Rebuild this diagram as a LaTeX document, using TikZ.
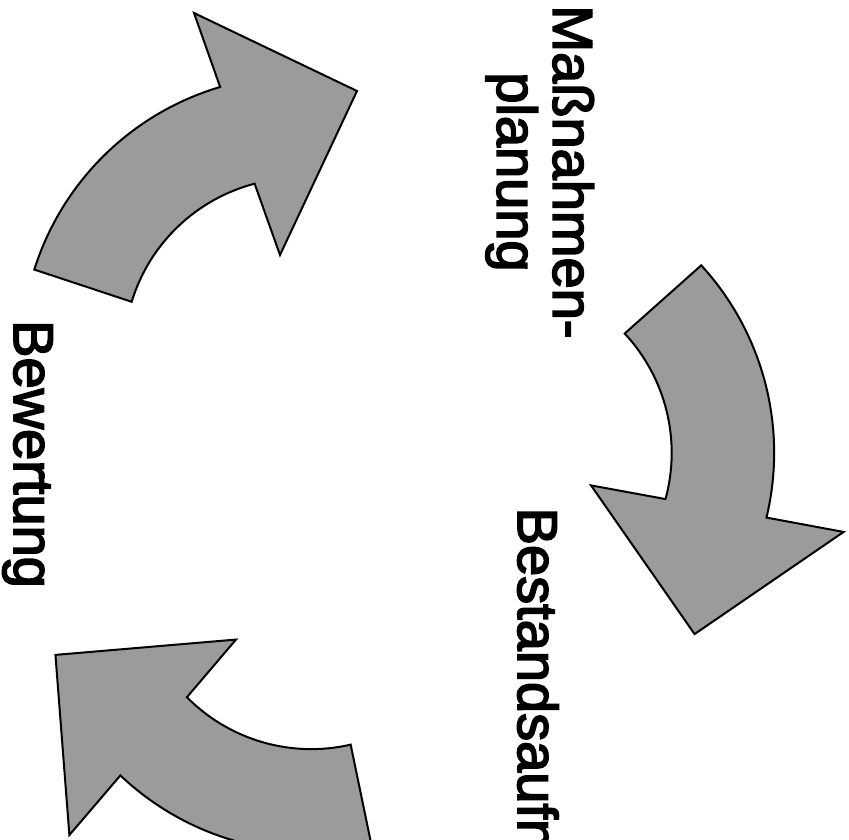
\documentclass[tikz,border=0pt]{standalone}
\usepackage{fontspec}
\newfontfamily\lblfont{Liberation Sans}[FakeBold=3]
\definecolor{arrowgray}{RGB}{155,155,155}
\tikzset{
  cyclearrow/.style={fill=arrowgray, draw=black, line width=2pt, line join=miter},
  lbl/.style={font=\lblfont\fontsize{56}{56}\selectfont, inner sep=0pt, rotate=-90}
}
\begin{document}
\begin{tikzpicture}[x=1pt,y=1pt]
\useasboundingbox (0,0) rectangle (849,840);
\clip (0,0) rectangle (849,840);
\foreach \r in {0,-120,-240}{
  \begin{scope}[rotate around={\r:(369,380)}]
    \draw[cyclearrow] (34.3,570.4) arc[start angle=162.5, end angle=106.5, radius=277.5]
      -- (194,827) -- (357,749) -- (280,585) -- (254.6,656.3)
      arc[start angle=104.7, end angle=163, radius=175] -- cycle;
  \end{scope}
}
\node[lbl, anchor=base west] (bew) at (14,520) {Bewertung};
\node[lbl, anchor=base west] (best) at (518,332.5) {Bestandsaufnahme};
\node[lbl, anchor=north, align=center] (mass) at (594,668) {Maßnahmen-\\planung};
\end{tikzpicture}
\end{document}
